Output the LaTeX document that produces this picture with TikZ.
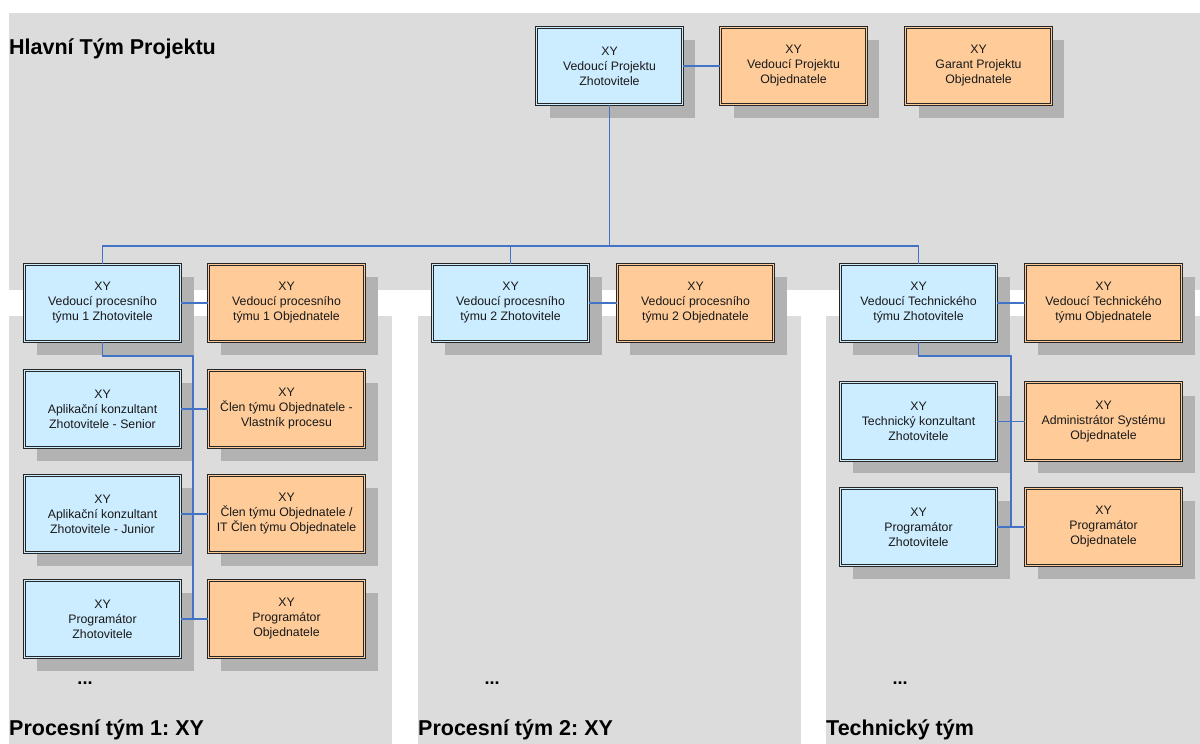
\documentclass[tikz,border=0pt]{standalone}
\usepackage{fontspec}
\setmainfont{Liberation Sans}
\usetikzlibrary{shadows}
\frenchspacing
\definecolor{panelgray}{HTML}{DCDCDC}
\definecolor{shadegray}{HTML}{B2B2B2}
\definecolor{zhoblue}{HTML}{CCECFF}
\definecolor{objorange}{HTML}{FFCC99}
\definecolor{linkblue}{HTML}{4472C4}
\newcommand{\boxFont}[0]{\fontsize{12.3}{15}\selectfont}

\begin{document}
\begin{tikzpicture}[x=1pt, y=-1pt]
  \tikzset{
    role/.style={draw=black!85, line width=0.7pt, double distance=1.4pt,
      align=center, inner sep=0pt, minimum width=156.5pt, minimum height=77.5pt,
      font=\boxFont, text=black!90,
      drop shadow={shadow xshift=13pt, shadow yshift=-13pt, fill=shadegray, opacity=1, draw=none}},
    zho/.style={role, double=zhoblue, fill=zhoblue},
    obj/.style={role, double=objorange, fill=objorange},
    lead/.style={minimum width=145.5pt},
    link/.style={draw=linkblue, line width=1.1pt},
    heading/.style={anchor=base west, inner sep=0pt, font=\fontsize{21.5}{24}\selectfont\bfseries},
    ellip/.style={anchor=base, inner sep=0pt, font=\fontsize{18}{20}\selectfont\bfseries}
  }
  \useasboundingbox (0,0) rectangle (1200,744);
  \fill[panelgray] (9,13) rectangle (1200,290);
  \fill[panelgray] (9,316) rectangle (392,744);
  \fill[panelgray] (418,316) rectangle (801,744);
  \fill[panelgray] (826,316) rectangle (1200,744);

  \node[heading] (tm) at (9,54) {Hlavní Tým Projektu};
  \node[heading] (t1) at (9,735) {Procesní tým 1: XY};
  \node[heading] (t2) at (418,735) {Procesní tým 2: XY};
  \node[heading] (t3) at (826,735) {Technický tým};
  \node[ellip] (d1) at (85,684) {...};
  \node[ellip] (d2) at (492,684) {...};
  \node[ellip] (d3) at (900,684) {...};

  \node[zho, lead] (vpz) at (609.5,66) {XY\\Vedoucí Projektu\\Zhotovitele};
  \node[obj, lead] (vpo) at (793.5,66) {XY\\Vedoucí Projektu\\Objednatele};
  \node[obj, lead] (gpo) at (978.5,66) {XY\\Garant Projektu\\Objednatele};

  \node[zho] (p1z) at (102.5,303) {XY\\Vedoucí procesního\\týmu 1 Zhotovitele};
  \node[obj] (p1o) at (286.5,303) {XY\\Vedoucí procesního\\týmu 1 Objednatele};
  \node[zho] (p2z) at (510.5,303) {XY\\Vedoucí procesního\\týmu 2 Zhotovitele};
  \node[obj] (p2o) at (695.5,303) {XY\\Vedoucí procesního\\týmu 2 Objednatele};
  \node[zho] (tvz) at (918.5,303) {XY\\Vedoucí Technického\\týmu Zhotovitele};
  \node[obj] (tvo) at (1103.5,303) {XY\\Vedoucí Technického\\týmu Objednatele};

  \node[zho] (a1z) at (102.5,409) {XY\\Aplikační konzultant\\Zhotovitele - Senior};
  \node[obj] (a1o) at (286.5,409) {XY\\Člen týmu Objednatele -\\Vlastník procesu};
  \node[zho] (a2z) at (102.5,514) {XY\\Aplikační konzultant\\Zhotovitele - Junior};
  \node[obj] (a2o) at (286.5,514) {XY\\Člen týmu Objednatele /\\IT Člen týmu Objednatele};
  \node[zho] (g1z) at (102.5,619) {XY\\Programátor\\Zhotovitele};
  \node[obj] (g1o) at (286.5,619) {XY\\Programátor\\Objednatele};

  \node[zho] (kz) at (918.5,421.5) {XY\\Technický konzultant\\Zhotovitele};
  \node[obj] (ko) at (1103.5,421.5) {XY\\Administrátor Systému\\Objednatele};
  \node[zho] (g3z) at (918.5,527) {XY\\Programátor\\Zhotovitele};
  \node[obj] (g3o) at (1103.5,527) {XY\\Programátor\\Objednatele};

  \coordinate (bus) at (609.5,246);
  \coordinate (s1) at (193,356);
  \coordinate (s3) at (1011,356);
  \draw[link] (vpz.south) -- (bus);
  \draw[link] (p1z.north) |- (bus) -| (tvz.north);
  \draw[link] (p2z.north) -- (p2z.north |- bus);
  \draw[link] (vpz.east) -- (vpo.west);
  \draw[link] (p1z.south) |- (s1) -- (s1 |- g1z.east);
  \draw[link] (tvz.south) |- (s3) -- (s3 |- g3z.east);
  \draw[link] (p1z.east) -- (p1o.west);
  \draw[link] (p2z.east) -- (p2o.west);
  \draw[link] (tvz.east) -- (tvo.west);
  \draw[link] (a1z.east) -- (a1o.west);
  \draw[link] (a2z.east) -- (a2o.west);
  \draw[link] (g1z.east) -- (g1o.west);
  \draw[link] (kz.east) -- (ko.west);
  \draw[link] (g3z.east) -- (g3o.west);
\end{tikzpicture}
\end{document}
